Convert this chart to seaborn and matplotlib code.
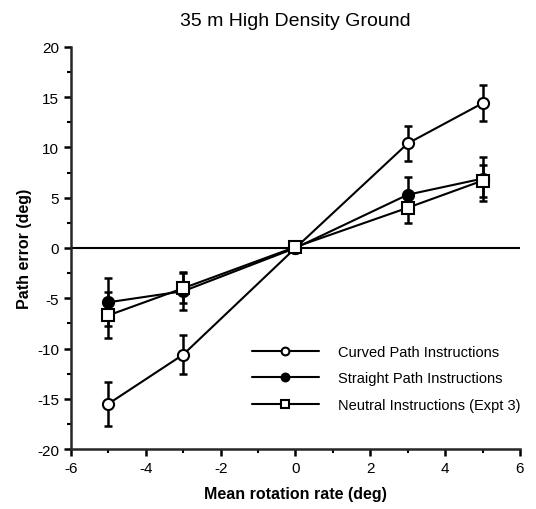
import pandas as pd
import numpy as np
import matplotlib
matplotlib.use("Agg")
import matplotlib.pyplot as plt
import seaborn as sns
from matplotlib.ticker import MultipleLocator

rate = [-5, -3, 0, 3, 5]
curved = [-15.5, -10.6, 0.0, 10.4, 14.4]
curved_err = [2.2, 1.9, 0.0, 1.7, 1.8]
straight = [-5.4, -4.3, 0.0, 5.3, 6.9]
straight_err = [2.4, 1.9, 0.0, 1.8, 2.2]
neutral = [-6.7, -4.0, 0.1, 4.0, 6.7]
neutral_err = [2.3, 1.5, 0.0, 1.5, 1.6]

sns.set_style("ticks")
plt.rcParams["font.family"] = ["Liberation Sans", "DejaVu Sans"]
plt.rcParams["axes.unicode_minus"] = False
plt.rcParams["text.color"] = "black"
plt.rcParams["axes.labelcolor"] = "black"
plt.rcParams["xtick.color"] = "black"
plt.rcParams["ytick.color"] = "black"

fig = plt.figure(figsize=(5.36, 5.1), dpi=100)
ax = fig.add_axes([0.1325, 0.1176, 0.8375, 0.7884])

series = [
    ("Curved Path Instructions", curved, curved_err, "o", "white", 8),
    ("Straight Path Instructions", straight, straight_err, "o", "black", 8),
    ("Neutral Instructions (Expt 3)", neutral, neutral_err, "s", "white", 8),
]

ax.axhline(0, color="black", lw=1.5, zorder=1)

for name, vals, errs, mk, fc, ms in series:
    df = pd.DataFrame({"rate": rate, "err": vals})
    ax.errorbar(rate, vals, yerr=errs, fmt="none", ecolor="black",
                elinewidth=1.8, capsize=3, capthick=1.8, zorder=2)
    sns.lineplot(data=df, x="rate", y="err", ax=ax, color="black", lw=1.5,
                 marker=mk, markersize=ms, markerfacecolor=fc,
                 markeredgecolor="black", markeredgewidth=1.5, label=name,
                 zorder=3)

ax.set_xlim(-6, 6)
ax.set_ylim(-20, 20)
ax.xaxis.set_major_locator(MultipleLocator(2))
ax.xaxis.set_minor_locator(MultipleLocator(1))
ax.yaxis.set_major_locator(MultipleLocator(5))
ax.yaxis.set_minor_locator(MultipleLocator(2.5))
ax.tick_params(which="major", length=5, width=1.8, labelsize=11, direction="out")
ax.tick_params(which="minor", length=3, width=1.5)
for s in ["left", "bottom"]:
    ax.spines[s].set_linewidth(1.8)
sns.despine(ax=ax)

ax.set_xlabel("Mean rotation rate (deg)", fontsize=11.5, fontweight="bold", labelpad=8)
ax.set_ylabel("Path error (deg)", fontsize=11.5, fontweight="bold", labelpad=4)
ax.set_title("35 m High Density Ground", fontsize=14, pad=16)

leg = ax.legend(loc="lower right", bbox_to_anchor=(1.03, 0.06), frameon=False,
                fontsize=10.5, handlelength=4.6, handletextpad=1.3,
                labelspacing=0.85, markerscale=0.7)

fig.savefig("out.png", dpi=100)
